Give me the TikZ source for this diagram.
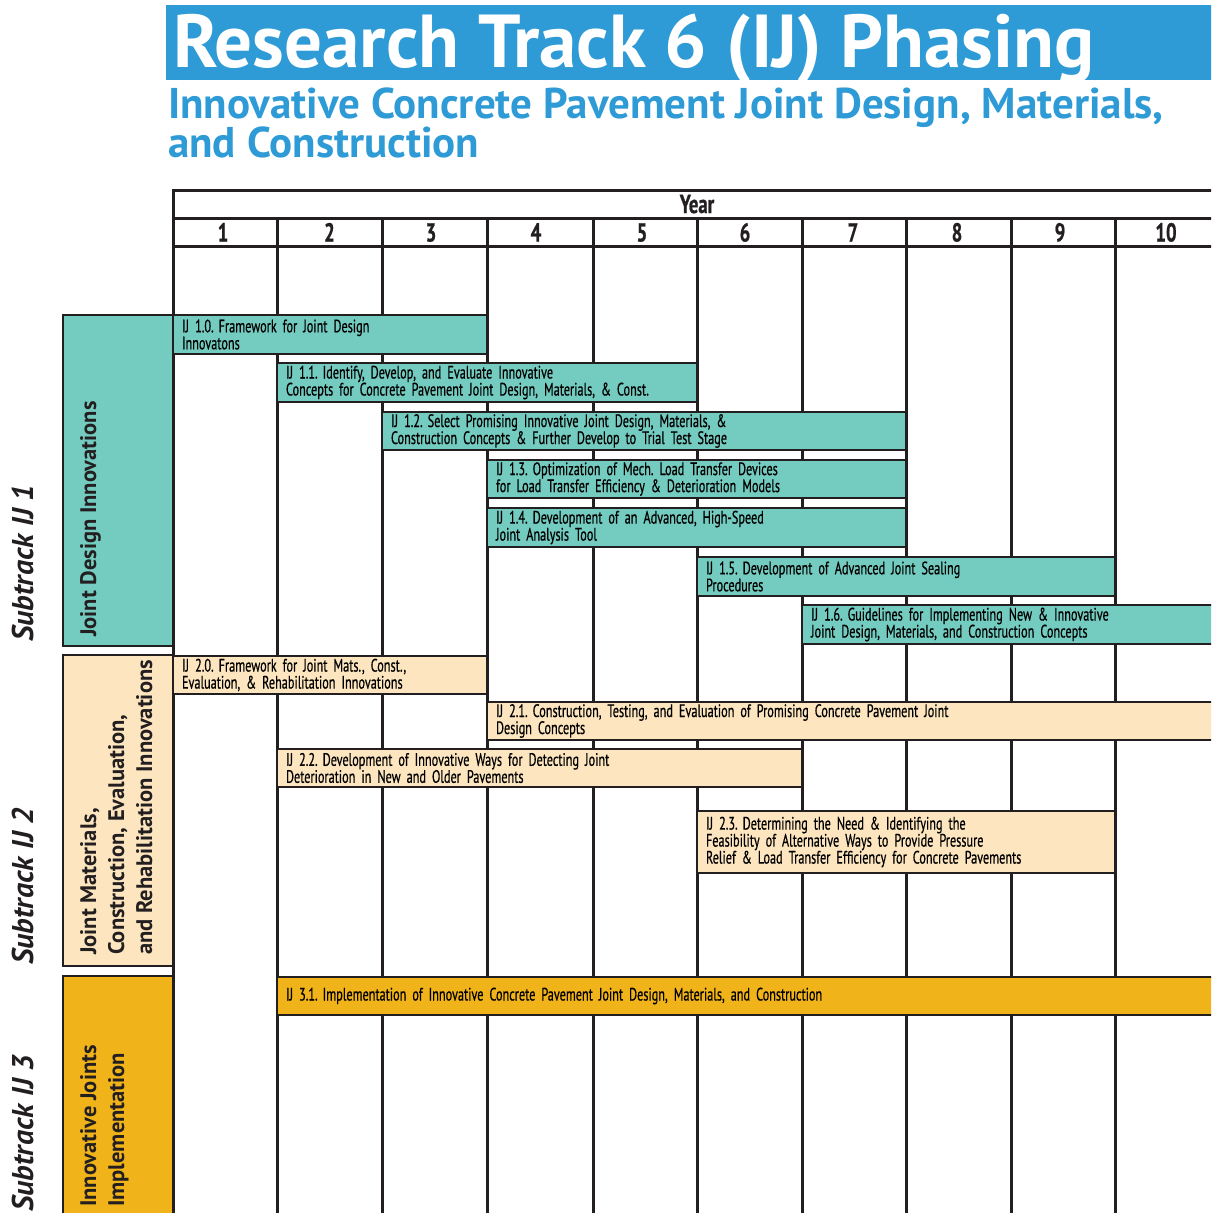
\documentclass[tikz,border=0pt]{standalone}
\usepackage{fontspec}
\setmainfont{PT Sans}
\newfontfamily\titlefont{PT Sans}
\newfontfamily\subfont{PT Sans}
\newfontfamily\barfont{PT Sans}[FakeStretch=0.68, WordSpace=0.8, FakeBold=0.5]
\newfontfamily\headfont{PT Sans}[FakeStretch=0.72, FakeBold=0.8]
\newfontfamily\sidefont{PT Sans}
\newfontfamily\labfont{PT Sans}
\definecolor{tblue}{HTML}{2E9BD6}
\definecolor{lc}{HTML}{231F20}
\definecolor{tealc}{HTML}{74CBBF}
\definecolor{beigec}{HTML}{FDE6BF}
\definecolor{goldc}{HTML}{F1B31A}
\begin{document}
\begin{tikzpicture}[x=1pt,y=-1pt,
  gridline/.style={draw=lc, line width=3pt},
  barbox/.style={draw=lc, line width=2.5pt, inner xsep=9pt, inner ysep=0pt, outer sep=0pt,
    anchor=north west, align=left, font=\barfont\fontsize{18}{17}\selectfont\frenchspacing},
  sidebox/.style={draw=lc, line width=2.5pt},
  sidelabel/.style={rotate=90, anchor=base west, inner sep=0pt, text=lc,
    font=\sidefont\bfseries\itshape\fontsize{30}{30}\selectfont},
  innerlabel/.style={rotate=90, anchor=north west, inner sep=0pt, align=left, text=lc,
    font=\labfont\bfseries\fontsize{22.5}{28}\selectfont},
  headnum/.style={anchor=base, inner sep=0pt, text=lc, font=\headfont\bfseries\fontsize{26}{26}\selectfont}
]
\useasboundingbox (0,0) rectangle (1211,1213);
\clip (0,0) rectangle (1211,1213);
\fill[white] (0,0) rectangle (1211,1213);

% title
\fill[tblue] (166,5) rectangle (1240,80);
\node[anchor=base west, inner sep=0pt, text=white, font=\titlefont\bfseries\fontsize{75}{75}\selectfont] (title) at (173,67) {Research Track 6 (IJ) Phasing};
\node[anchor=base west, inner sep=0pt, text=tblue, font=\subfont\bfseries\fontsize{43}{43}\selectfont] (sub1) at (168,118) {Innovative Concrete Pavement Joint Design, Materials,};
\node[anchor=base west, inner sep=0pt, text=tblue, font=\subfont\bfseries\fontsize{43}{43}\selectfont] (sub2) at (168,157) {and Construction};

% grid
\foreach \x in {277,382,487,593,697,802,906,1011,1115} \draw[gridline] (\x,218) -- (\x,1220);
\draw[gridline] (173,1220) -- (173,190) -- (1240,190);
\draw[gridline] (173,218) -- (1240,218);
\draw[gridline] (173,246) -- (1240,246);
\node[headnum] (year) at (697,213) {Year};
\foreach \n/\c in {1/223,2/329.5,3/431,4/536,5/642,6/745,7/853,8/957,9/1060,10/1166}
  \node[headnum] (y\n) at (\c,241.5) {\n};

% side boxes
\draw[sidebox, fill=tealc] (63,315) rectangle (173,646);
\draw[sidebox, fill=beigec] (63,655) rectangle (173,966);
\draw[sidebox, fill=goldc] (63,976) rectangle (173,1230);
\node[sidelabel] (st1) at (33,642) {Subtrack IJ 1};
\node[sidelabel] (st2) at (33,965) {Subtrack IJ 2};
\node[sidelabel] (st3) at (33,1212) {Subtrack IJ 3};
\node[innerlabel] (l1) at (80,637) {Joint Design Innovations};
\node[innerlabel] (l2) at (80,955) {Joint Materials,\\Construction, Evaluation,\\and Rehabilitation Innovations};
\node[innerlabel] (l3) at (80,1207) {Innovative Joints\\Implementation};

% bars
\newcommand\ijgap{\hspace{5pt}}
\node[barbox, fill=tealc, minimum width=314pt, minimum height=39pt, text width=296pt] (b10) at (173,315)
  {IJ 1.0.\ijgap Framework for Joint Design\\Innovatons};
\node[barbox, fill=tealc, minimum width=420pt, minimum height=39pt, text width=402pt] (b11) at (277,363)
  {IJ 1.1.\ijgap Identify, Develop, and Evaluate Innovative\\Concepts for Concrete Pavement Joint Design, Materials, \& Const.};
\node[barbox, fill=tealc, minimum width=524pt, minimum height=38pt, text width=506pt] (b12) at (382,412)
  {IJ 1.2.\ijgap Select Promising Innovative Joint Design, Materials, \&\\Construction Concepts \& Further Develop to Trial Test Stage};
\node[barbox, fill=tealc, minimum width=419pt, minimum height=38pt, text width=401pt] (b13) at (487,460)
  {IJ 1.3.\ijgap Optimization of Mech. Load Transfer Devices\\for Load Transfer Efficiency \& Deterioration Models};
\node[barbox, fill=tealc, minimum width=419pt, minimum height=39pt, text width=401pt] (b14) at (487,508)
  {IJ 1.4.\ijgap Development of an Advanced, High-Speed\\Joint Analysis Tool};
\node[barbox, fill=tealc, minimum width=418pt, minimum height=39pt, text width=400pt] (b15) at (697,557)
  {IJ 1.5.\ijgap Development of Advanced Joint Sealing\\Procedures};
\node[barbox, fill=tealc, minimum width=440pt, minimum height=39pt, text width=422pt] (b16) at (802,605)
  {IJ 1.6.\ijgap Guidelines for Implementing New \& Innovative\\Joint Design, Materials, and Construction Concepts};
\node[barbox, fill=beigec, minimum width=314pt, minimum height=38pt, text width=296pt] (b20) at (173,656)
  {IJ 2.0.\ijgap Framework for Joint Mats., Const.,\\Evaluation, \& Rehabilitation Innovations};
\node[barbox, fill=beigec, minimum width=755pt, minimum height=38pt, text width=737pt] (b21) at (487,702)
  {IJ 2.1.\ijgap Construction, Testing, and Evaluation of Promising Concrete Pavement Joint\\Design Concepts};
\node[barbox, fill=beigec, minimum width=525pt, minimum height=38pt, text width=507pt] (b22) at (277,749)
  {IJ 2.2.\ijgap Development of Innovative Ways for Detecting Joint\\Deterioration in New and Older Pavements};
\node[barbox, fill=beigec, minimum width=418pt, minimum height=62pt, text width=400pt] (b23) at (697,811)
  {IJ 2.3.\ijgap Determining the Need \& Identifying the\\Feasibility of Alternative Ways to Provide Pressure\\Relief \& Load Transfer Efficiency for Concrete Pavements};
\node[barbox, fill=goldc, minimum width=965pt, minimum height=38pt, text width=947pt] (b31) at (277,977)
  {IJ 3.1.\ijgap Implementation of Innovative Concrete Pavement Joint Design, Materials, and Construction};
\end{tikzpicture}
\end{document}
